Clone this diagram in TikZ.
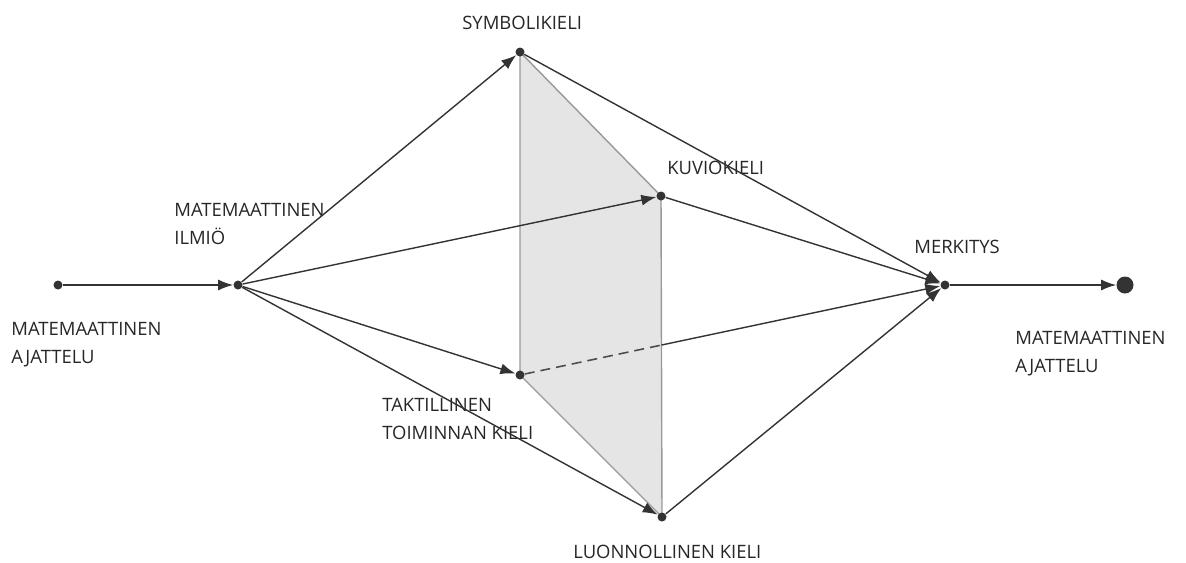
\documentclass[tikz,border=0pt]{standalone}
\usepackage{fontspec}
\setmainfont{Open Sans}
\usepackage{tikz}
\usetikzlibrary{arrows.meta}
\usetikzlibrary{backgrounds}
\tikzstyle{mydot} = [circle, fill=black!80, minimum size=0.18cm, inner sep=0pt]
\tikzstyle{bigdot} = [circle, fill=black!80, minimum size=0.34cm, inner sep=0pt]
\tikzstyle{mylabel} = [anchor=north west, align=left, inner sep=0pt, text=black!85, font=\fontsize{10.5}{16}\selectfont]
\tikzstyle{myedge} = [draw=black!80, line width=0.8pt, -{Latex[length=0.3cm, width=0.22cm]}]
\tikzstyle{plane} = [fill=black!10, draw=black!40, line width=0.8pt]

\begin{document}
\begin{tikzpicture}[x=0.02cm, y=-0.02cm]
        \useasboundingbox (0,0) rectangle (1186,562);

        % Vertices
        \node[mydot] (v_0) at (58,285) {};
        \node[mydot] (v_1) at (238,285) {};
        \node[mydot] (v_2) at (520,52) {};
        \node[mydot] (v_3) at (661,196) {};
        \node[mydot] (v_4) at (520,375) {};
        \node[mydot] (v_5) at (662,517) {};
        \node[mydot] (v_6) at (945,285) {};
        \node[bigdot] (v_7) at (1125,285) {};

        % Plane between the languages
        \begin{scope}[on background layer]
        \filldraw[plane] (v_2.center) -- (v_3.center) -- (v_5.center) -- (v_4.center) -- cycle;
        \end{scope}

        % Labels
        \node[mylabel] (l_0) at (11,322) {MATEMAATTINEN\\AJATTELU};
        \node[mylabel] (l_1) at (174,203) {MATEMAATTINEN\\ILMIÖ};
        \node[mylabel] (l_2) at (462,16) {SYMBOLIKIELI};
        \node[mylabel] (l_3) at (667,161) {KUVIOKIELI};
        \node[mylabel] (l_4) at (382,398) {TAKTILLINEN\\TOIMINNAN KIELI};
        \node[mylabel] (l_5) at (573,545) {LUONNOLLINEN KIELI};
        \node[mylabel] (l_6) at (914,240) {MERKITYS};
        \node[mylabel] (l_7) at (1015,331) {MATEMAATTINEN\\AJATTELU};

        % Edges
        \draw[myedge] (v_0) -- (v_1);
        \draw[myedge] (v_1) -- (v_2);
        \draw[myedge] (v_1) -- (v_3);
        \draw[myedge] (v_1) -- (v_4);
        \draw[myedge] (v_1) -- (v_5);

        \coordinate (c_0) at (intersection of v_4--v_6 and v_3--v_5);
        \draw[myedge] (v_2) -- (v_6);
        \draw[myedge] (v_3) -- (v_6);
        \draw[draw=black!70, line width=0.9pt, dash pattern=on 0.2cm off 0.12cm] (v_4) -- (c_0);
        \draw[myedge] (c_0) -- (v_6);
        \draw[myedge] (v_5) -- (v_6);
        \draw[myedge] (v_6) -- (v_7);
\end{tikzpicture}
\end{document}
